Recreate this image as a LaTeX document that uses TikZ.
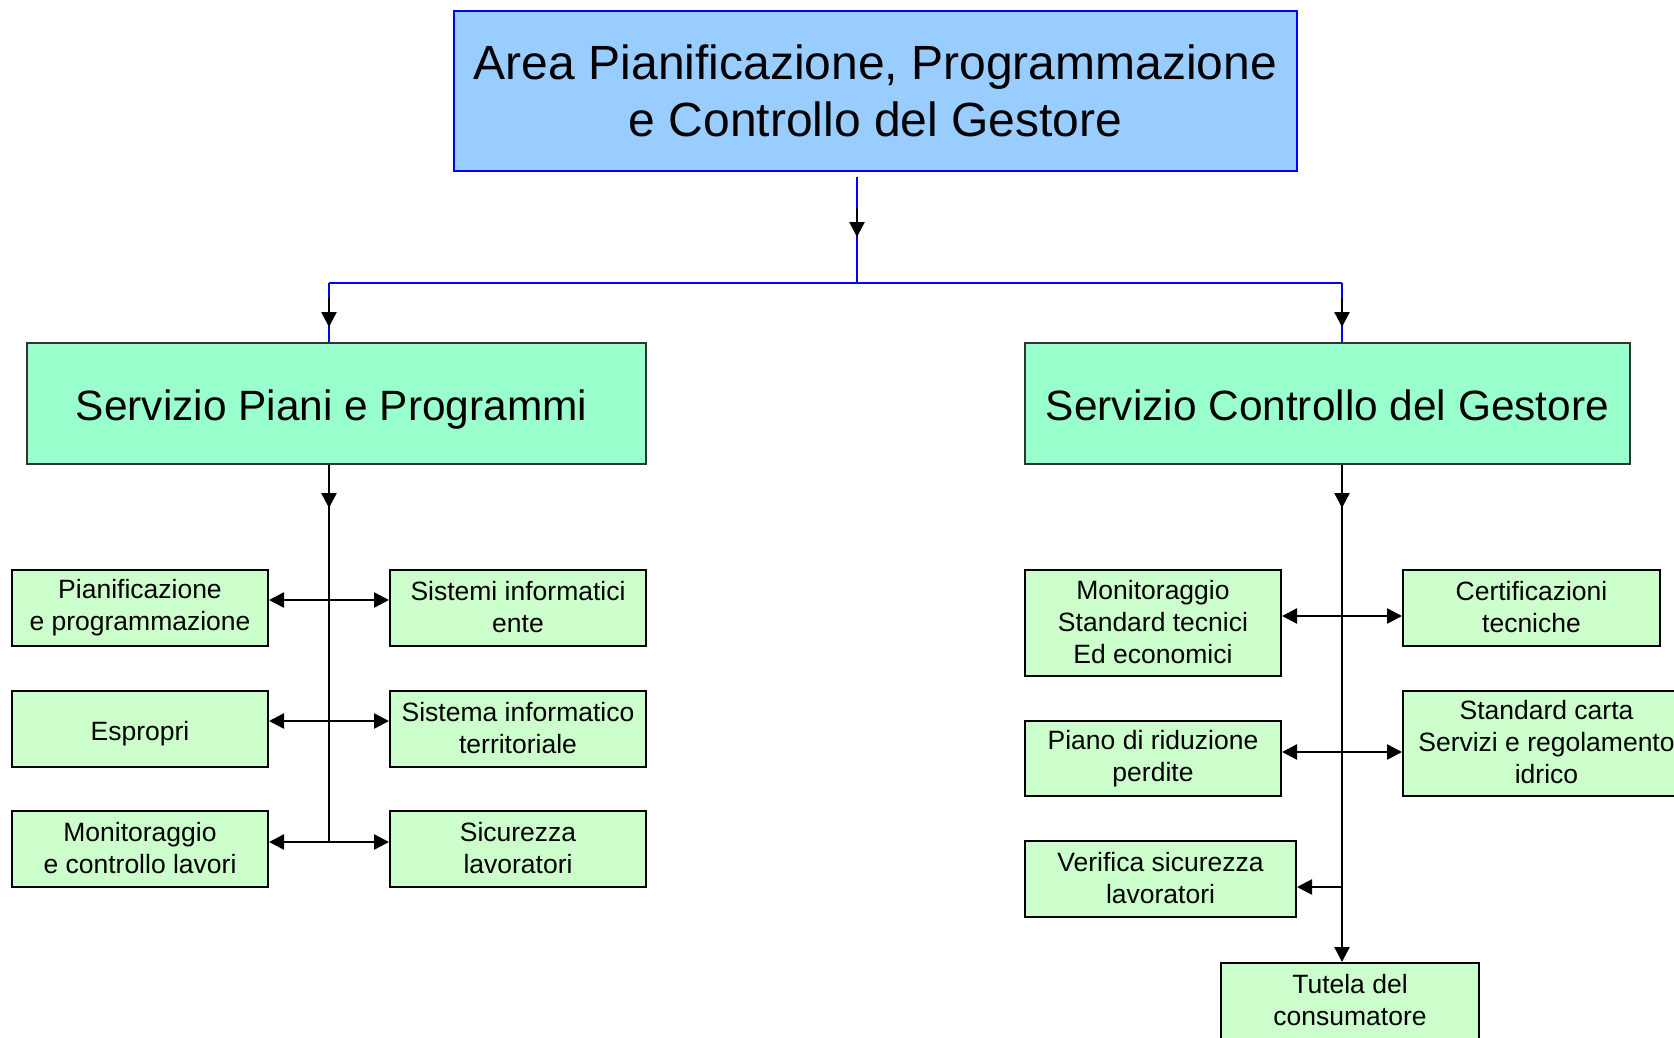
\documentclass[tikz,border=0pt]{standalone}
\usepackage{fontspec}
\setmainfont{Liberation Sans}
\usetikzlibrary{arrows.meta,positioning,calc,decorations.markings}

\definecolor{areablue}{RGB}{153,204,255}
\definecolor{mint}{RGB}{153,255,204}
\definecolor{palegreen}{RGB}{204,255,204}

\newcommand{\unitstrut}{\rule[-3.2pt]{0pt}{32pt}}

\tikzset{
  >={Triangle[length=15pt,width=15pt]},
  midarrow/.style={postaction={decorate},decoration={markings,
    mark=at position #1 with {\draw[black,line width=2.5pt,->] (-29pt,0pt) -- (0pt,0pt);}}},
}

\begin{document}
\begin{tikzpicture}[x=1pt,y=-1pt,
    areabox/.style={draw=blue,line width=2pt,fill=areablue,minimum width=843pt,minimum height=160pt,
      inner sep=0pt,align=center,font=\fontsize{48}{57}\selectfont},
    servbox/.style={draw=black!80,line width=2pt,fill=mint,minimum width=#1,minimum height=121pt,
      inner sep=0pt,text height=34pt,text depth=0pt,font=\fontsize{42.4}{50}\selectfont},
    unitbox/.style={draw=black,line width=2pt,fill=palegreen,minimum width=256pt,minimum height=76pt,
      inner sep=0pt,align=center,font=\fontsize{26.5}{32}\selectfont,
      execute at begin node=\unitstrut,execute at end node=\unitstrut},
    bline/.style={blue,line width=2pt},
    kline/.style={black,line width=2.5pt}]
    \useasboundingbox (0,0) rectangle (1674,1037);

    \node[areabox] (area) at (875.5,91) {Area Pianificazione, Programmazione\\e Controllo del Gestore};
    \node[servbox=619pt] (spp) at (336.5,403.5) {Servizio Piani e Programmi\hspace*{10pt}};
    \node[servbox=605pt] (scg) at (1327.5,403.5) {Servizio Controllo del Gestore};

    % blue bus
    \coordinate (stem) at (857,177);
    \coordinate (bus) at (857,283);
    \coordinate (bl) at (329,283);
    \coordinate (br) at (1342,283);
    \draw[bline,midarrow=60pt] (stem) -- (bus);
    \draw[bline] (bl) -- (br);
    \draw[bline,midarrow=44pt] (bl) -- (bl |- spp.north);
    \draw[bline,midarrow=44pt] (br) -- (br |- scg.north);

    % left units
    \foreach \n/\x/\y/\t in {pp/140/608/{Pianificazione\\e programmazione}, es/140/729/Espropri,
        mc/140/849/{Monitoraggio\\e controllo lavori}, si/518/608/{Sistemi informatici\\ente},
        st/518/729/{Sistema informatico\\territoriale}, sl/518/849/{Sicurezza\\lavoratori}} {
      \node[unitbox] (\n) at (\x,\y) {\t};
    }
    \foreach \a/\b/\y in {pp/si/600, es/st/721, mc/sl/842} {
      \coordinate (l\a) at (329,\y);
      \draw[kline,<->] (\a.east |- l\a) -- (\b.west |- l\a);
    }
    \draw[kline,midarrow=43pt] (bl |- spp.south) -- (lmc);

    % right units
    \node[unitbox,minimum height=106pt] (mon) at (1153,623) {Monitoraggio\\Standard tecnici\\Ed economici};
    \node[unitbox,minimum height=75pt] (prp) at (1153,758.5) {Piano di riduzione\\perdite};
    \node[unitbox,minimum width=271pt] (ver) at (1160.5,879) {Verifica sicurezza\\lavoratori};
    \node[unitbox,minimum width=257pt] (cer) at (1531.5,608) {Certificazioni\\tecniche};
    \node[unitbox,minimum width=287pt,minimum height=105pt] (scs) at (1546.5,743.5) {Standard carta\\Servizi e regolamento\\idrico};
    \node[unitbox,minimum width=258pt] (tut) at (1350,1001) {Tutela del\\consumatore};

    \coordinate (r1) at (1342,616);
    \coordinate (r2) at (1342,752);
    \coordinate (r3) at (1342,887);
    \draw[kline,<->] (mon.east |- r1) -- (cer.west |- r1);
    \draw[kline,<->] (prp.east |- r2) -- (scs.west |- r2);
    \draw[kline,->] (r3) -- (ver.east |- r3);
    \draw[kline,->,midarrow=43pt] (br |- scg.south) -- (br |- tut.north);
\end{tikzpicture}
\end{document}
